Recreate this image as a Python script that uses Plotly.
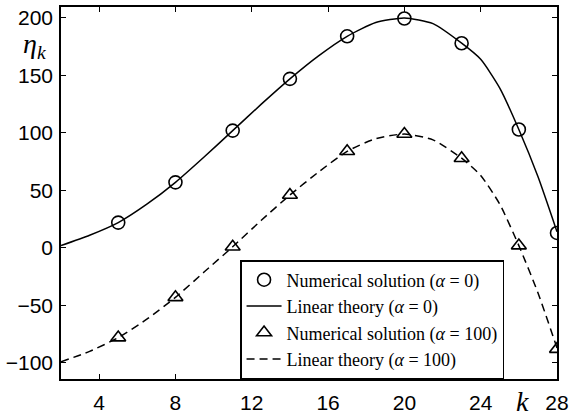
import plotly.graph_objects as go

# Numerical solutions
k_num = [5, 8, 11, 14, 17, 20, 23, 26, 28]
eta_num_a0 = [22, 57, 102, 147, 184, 199.5, 178, 103, 13]
eta_num_a100 = [-78, -43, 1, 46, 84, 99, 78, 2, -88]

# Linear theory
k_lin = [2, 3.5, 5, 6.5, 8, 9.5, 11, 12.5, 14, 15.5, 17, 18.5, 20, 21.5, 23, 24, 25, 26, 27, 28]
eta_lin_a0 = [2, 11, 22, 38, 57, 79, 102, 125, 147, 167, 184, 196, 200, 195, 178, 164, 139, 103, 62, 14]
eta_lin_a100 = [-99, -90, -78, -62, -43, -21, 1, 24, 46, 66, 84, 95, 99, 94, 78, 63, 38, 2, -39, -87]

x_ticks = [4, 8, 12, 16, 20, 24, 28]
y_ticks = [-100, -50, 0, 50, 100, 150, 200]

fig = go.Figure()
fig.add_trace(go.Scatter(
    x=k_num, y=eta_num_a0, mode="markers",
    name="Numerical solution (<i>α</i> = 0)",
    marker=dict(symbol="circle-open", size=13, color="black", line=dict(width=1.6)),
))
fig.add_trace(go.Scatter(
    x=k_lin, y=eta_lin_a0, mode="lines",
    name="Linear theory (<i>α</i> = 0)",
    line=dict(color="black", width=1.5, shape="spline", smoothing=0.6),
))
fig.add_trace(go.Scatter(
    x=k_num, y=eta_num_a100, mode="markers",
    name="Numerical solution (<i>α</i> = 100)",
    marker=dict(symbol="triangle-up-open", size=13, color="black", line=dict(width=1.6)),
))
fig.add_trace(go.Scatter(
    x=k_lin, y=eta_lin_a100, mode="lines",
    name="Linear theory (<i>α</i> = 100)",
    line=dict(color="black", width=1.5, dash="8px,5px", shape="spline", smoothing=0.6),
))

axis_common = dict(
    showline=True, linecolor="black", linewidth=1.5, mirror="ticks",
    ticks="inside", ticklen=5, tickwidth=1, tickcolor="black",
    showgrid=False, zeroline=False,
    tickfont=dict(family="Liberation Sans, Arial, sans-serif", size=21, color="black"),
)

fig.update_layout(
    width=574, height=419,
    margin=dict(l=61, r=12, t=5, b=36),
    paper_bgcolor="white", plot_bgcolor="white",
    xaxis=dict(range=[2, 28], tickvals=x_ticks, ticklabelstandoff=4, **axis_common),
    yaxis=dict(range=[-114, 209.5], tickvals=y_ticks, ticklabelstandoff=2, **axis_common),
    showlegend=True,
    legend=dict(
        x=0.361, y=0.0, xanchor="left", yanchor="bottom",
        bgcolor="white", bordercolor="black", borderwidth=1.5,
        font=dict(family="Liberation Serif, Times New Roman, serif", size=18, color="black"),
        itemwidth=35, tracegroupgap=0,
    ),
    annotations=[
        dict(text="<i>η<sub>k</sub></i>", x=21, y=44, xref="paper", yref="paper",
             xanchor="left", yanchor="middle", showarrow=False,
             font=dict(family="Liberation Serif, serif", size=28, color="black")),
        dict(text="<i>k</i>", x=527, y=406, xref="paper", yref="paper",
             xanchor="center", yanchor="middle", showarrow=False,
             font=dict(family="Liberation Serif, serif", size=28, color="black")),
    ],
)

# convert pixel positions for annotations into paper coordinates
W, H = 574, 419
l, r, t, b = 61, 12, 5, 36
pw, ph = W - l - r, H - t - b
for ann in fig.layout.annotations:
    px, py = ann.x, ann.y
    ann.x = (px - l) / pw
    ann.y = 1 - (py - t) / ph

fig.write_html("out.html")
